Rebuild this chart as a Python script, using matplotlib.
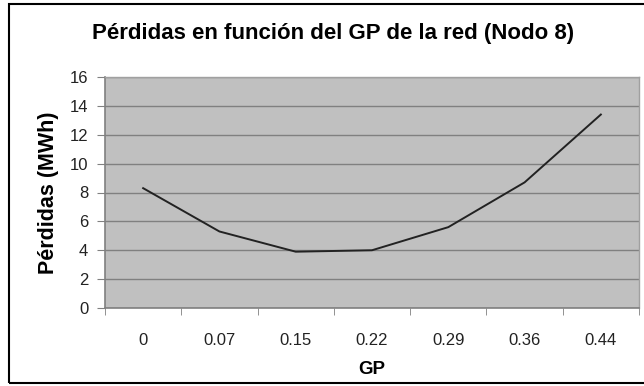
import matplotlib.pyplot as plt
from matplotlib.patches import Rectangle

plt.rcParams['font.family'] = ['Liberation Sans', 'DejaVu Sans']

# Pérdidas de la red según el GP (Nodo 8)
gp_labels = ['0', '0.07', '0.15', '0.22', '0.29', '0.36', '0.44']
perdidas = [8.3, 5.3, 3.9, 4.0, 5.6, 8.7, 13.4]

W, H = 644, 386
fig = plt.figure(figsize=(W / 100, H / 100), dpi=100)
fig.patch.set_facecolor('white')

# borde exterior del gráfico (el lado derecho queda fuera de la imagen)
fig.add_artist(Rectangle((9 / W, 3 / H), (W + 5) / W, (H - 7) / H,
                         transform=fig.transFigure, fill=False,
                         edgecolor='black', linewidth=1.5))

ax = fig.add_axes([105 / W, (H - 308) / H, (639 - 105) / W, (308 - 77) / H])
ax.set_facecolor('#c0c0c0')

x = list(range(len(gp_labels)))
ax.plot(x, perdidas, color='#222222', linewidth=1.4, zorder=3)

ax.set_xlim(-0.5, len(gp_labels) - 0.5)
ax.set_ylim(0, 16)
ax.set_yticks(range(0, 17, 2))
ax.yaxis.grid(True, color='#808080', linewidth=1.0)
ax.set_axisbelow(True)

# etiquetas en el centro de cada categoría, marcas en los límites
ax.set_xticks(x)
ax.set_xticklabels(gp_labels)
ax.set_xticks([i - 0.5 for i in range(len(gp_labels) + 1)], minor=True)
ax.tick_params(axis='x', which='major', length=0, pad=18, labelsize=12,
               labelcolor='#222222')
ax.tick_params(axis='x', which='minor', length=5, color='#808080', direction='out')
ax.tick_params(axis='y', length=6, color='#808080', direction='out', labelsize=12,
               pad=6, labelcolor='#222222')

for side in ['left', 'bottom']:
    ax.spines[side].set_color('#808080')
    ax.spines[side].set_linewidth(1.2)
for side in ['top', 'right']:
    ax.spines[side].set_color('#a0a0a0')
    ax.spines[side].set_linewidth(1.0)

ax.set_xlabel('GP', fontsize=13.5, fontweight='bold', labelpad=9)
ax.set_ylabel('Pérdidas (MWh)', fontsize=15.5, fontweight='bold', labelpad=8)

fig.text(333 / W, 1 - 33 / H, 'Pérdidas en función del GP de la red (Nodo 8)',
         ha='center', va='center', fontsize=16, fontweight='bold')

fig.savefig('out.png', dpi=100)
